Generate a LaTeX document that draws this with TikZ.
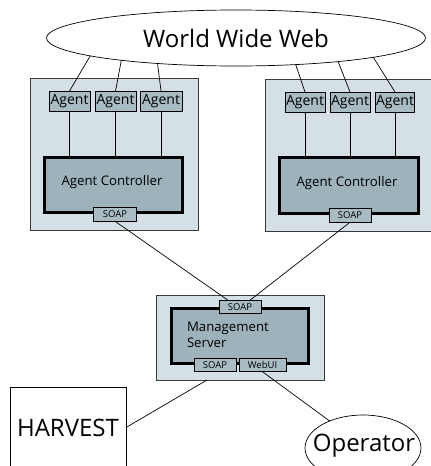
\documentclass[tikz,border=0pt]{standalone}
\usepackage{fontspec}
\setmainfont{Open Sans}
\usetikzlibrary{shapes.geometric}
\definecolor{outerfill}{HTML}{D4DFE6}
\definecolor{agentfill}{HTML}{A9BCC3}
\definecolor{ctrlfill}{HTML}{9DB2BB}
\definecolor{edgegray}{HTML}{3A3A3A}
\begin{document}
\begin{tikzpicture}[x=1pt,y=-1pt,
  every node/.style={inner sep=0pt,outer sep=0pt},
  outerbox/.style={draw=edgegray,line width=0.9pt,fill=outerfill,rectangle},
  agentbox/.style={draw=black,line width=0.7pt,fill=agentfill,rectangle,minimum width=41pt,minimum height=20pt,font=\fontsize{14}{15}\selectfont},
  ctrlbox/.style={draw=black,line width=3pt,fill=ctrlfill,rectangle},
  portbox/.style={draw=black,line width=0.7pt,fill=agentfill,rectangle,minimum width=43pt,minimum height=13.5pt,font=\fontsize{9.5}{10}\selectfont},
  conn/.style={draw=black,line width=0.7pt},
  ctrltext/.style={font=\fontsize{13.2}{15}\selectfont},
  bigtext/.style={font=\fontsize{24}{26}\selectfont}
]
\useasboundingbox (0,0) rectangle (431,466);
% World Wide Web
\node[ellipse,draw=black,line width=0.7pt,minimum width=379pt,minimum height=56pt,bigtext] (www) at (236,38) {World Wide Web};
% Left group
\node[outerbox,minimum width=168pt,minimum height=152pt] (lgrp) at (114,154) {};
\node[agentbox] (la1) at (69.5,101) {Agent};
\node[agentbox] (la2) at (115.5,101) {Agent};
\node[agentbox,minimum width=42pt] (la3) at (161,101) {Agent};
\node[ctrlbox,minimum width=138pt,minimum height=55pt] (lctrl) at (113,184.5) {};
\node[ctrltext] (lctrlt) at (112,182) {Agent Controller};
\node[portbox] (lsoap) at (115,214.5) {SOAP};
% Right group
\node[outerbox,minimum width=170pt,minimum height=152pt] (rgrp) at (350,155) {};
\node[agentbox,minimum width=40pt] (ra1) at (305,102) {Agent};
\node[agentbox,minimum width=40pt] (ra2) at (350,102) {Agent};
\node[agentbox,minimum width=39pt] (ra3) at (395,102) {Agent};
\node[ctrlbox,minimum width=139pt,minimum height=56pt] (rctrl) at (348.5,185) {};
\node[ctrltext] (rctrlt) at (347,183) {Agent Controller};
\node[portbox,minimum width=42pt] (rsoap) at (350,215.5) {SOAP};
% agent links
\draw[conn] (la1.north) -- (www.187);
\draw[conn] (la2.north) -- (www.191.6);
\draw[conn] (la3.north) -- (www.198.9);
\draw[conn] (ra1.north) -- (www.336.2);
\draw[conn] (ra2.north) -- (www.347.2);
\draw[conn] (ra3.north) -- (www.352.5);
\foreach \a/\c in {la1/lctrl,la2/lctrl,la3/lctrl,ra1/rctrl,ra2/rctrl,ra3/rctrl}
  \draw[conn] (\a.south) -- (\a.south |- \c.north);
% Management server
\node[outerbox,minimum width=168pt,minimum height=85pt] (mgrp) at (240,337.5) {};
\node[ctrlbox,minimum width=137pt,minimum height=55pt] (mctrl) at (239.5,335.5) {};
\node[ctrltext,font=\fontsize{13.2}{16}\selectfont,align=left,anchor=west] (mtext) at (187,335) {Management\\Server};
\node[portbox,minimum width=42pt] (msoapt) at (240,307) {SOAP};
\node[portbox,minimum width=42pt] (msoapb) at (215,365) {SOAP};
\node[portbox,minimum width=47pt] (mweb) at (262.5,365) {WebUI};
\draw[conn] (lsoap.south) -- ([xshift=-12pt]msoapt.north);
\draw[conn] (rsoap.south) -- ([xshift=10pt]msoapt.north);
% HARVEST
\node[draw=black,line width=0.7pt,rectangle,minimum width=116pt,minimum height=81pt,bigtext] (harvest) at (68,427.5) {HARVEST};
% Operator
\node[ellipse,draw=black,line width=0.7pt,minimum width=116pt,minimum height=66pt] (oper) at (363,448) {};
\node[bigtext] (opertext) at (364,446) {Operator};
\draw[conn] (harvest.east) -- ([xshift=-33pt]mgrp.south);
\draw[conn] (mweb.south) -- (oper.141);
\end{tikzpicture}
\end{document}
